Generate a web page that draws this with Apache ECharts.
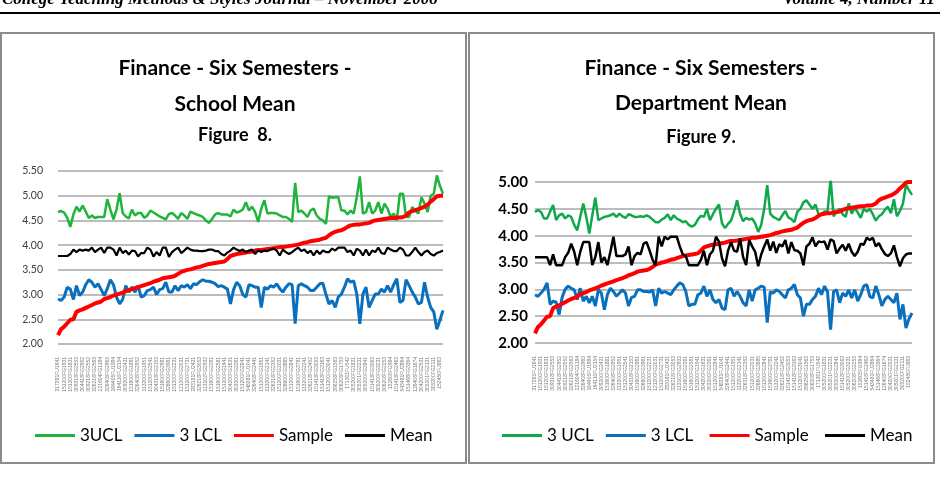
<!DOCTYPE html>
<html><head><meta charset="utf-8">
<script src="https://cdn.jsdelivr.net/npm/echarts@6/dist/echarts.min.js"></script>
<style>html,body{margin:0;padding:0;background:#fff}#c{width:940px;height:478px}</style>
</head><body><div id="c"></div>
<script>
const categories = ['317381FU1641','151200FG2041','151200FG1931','151200FG1731','151200FG1831','309318FG2453','309318FG2553','304418FG2852','304418FG2952','309218FG2452','309218FG2552','326218FG2463','326218FG2563','121604FG1084','121604FG1184','326408FG2863','326408FG2963','164405FU1884','164405FU1984','164110FU2054','164110FU2154','309200FG2331','309200FG2431','151600FG1781','151600FG1881','326408FG2852','326408FG2952','113200FG1851','113200FG1951','151200FG2441','151200FG2541','304318FG2053','304318FG2153','151600FG2881','151600FG2981','326600FG3881','326600FG3981','151200FG2131','151200FG2231','121200FG1931','121200FG2031','151200FG2731','151200FG2731','283181FU2331','283181FU2431','326218FG2953','326218FG3053','113102FG2832','113102FG2932','151600FG2181','151600FG2281','151600FG2481','151600FG2581','151200FG1841','151200FG1941','304200FG1531','304200FG1631','303200FG2161','303200FG2261','151200FG2741','151200FG2841','548381FU0941','548381FU1041','326408FG2341','326408FG2441','151200FG1851','151200FG1951','113200FG2041','113200FG2141','326318FG2252','326318FG2352','151200FG1931','151200FG2031','326600FG3785','326600FG3885','151200FG2741','151200FG2841','151600FG3681','151600FG3781','113200FG2141','113200FG2241','326218FG2352','326218FG2452','151418FG2953','151418FG3053','151418FG3063','151418FG3163','151200FG2941','151200FG3041','398258FG1463','398258FG1563','306208FG1653','306208FG1753','171301FU442','171301FU542','305200FG1731','305200FG1831','305201FG2131','305201FG2231','305200FG2741','305200FG2841','151418FG2963','151418FG3063','305200FG3131','305200FG3231','306208FG2153','306208FG2253','152605FG884','152605FG984','151418FG2363','151418FG2463','543481FU2764','543481FU2864','151468FG3264','151468FG3364','126408FG1574','126408FG1674','304200FG2431','304200FG2531','305201FG2031','305201FG2131','305200FG2011','305200FG2111','152450FU763','152450FU863','152450FU963'];

const sample = [2.18,2.30,2.35,2.42,2.49,2.50,2.65,2.68,2.70,2.73,
 2.76,2.79,2.82,2.84,2.86,2.91,2.93,2.95,2.98,3.00,
 3.02,3.04,3.07,3.09,3.11,3.13,3.15,3.17,3.19,3.21,
 3.23,3.26,3.28,3.30,3.33,3.34,3.35,3.36,3.38,3.42,
 3.46,3.48,3.50,3.51,3.53,3.55,3.56,3.58,3.60,3.62,
 3.63,3.64,3.65,3.66,3.67,3.72,3.78,3.80,3.82,3.83,
 3.84,3.85,3.86,3.87,3.89,3.90,3.90,3.91,3.92,3.93,
 3.94,3.95,3.96,3.96,3.97,3.98,3.99,4.00,4.01,4.03,
 4.05,4.06,4.08,4.09,4.10,4.11,4.13,4.15,4.20,4.24,
 4.27,4.29,4.30,4.33,4.37,4.40,4.41,4.42,4.42,4.43,
 4.44,4.45,4.48,4.50,4.51,4.52,4.53,4.54,4.55,4.55,
 4.56,4.56,4.57,4.60,4.66,4.69,4.71,4.73,4.75,4.78,
 4.82,4.88,4.93,4.99,5.00,5.00];

const schoolUCL = [4.67,4.69,4.66,4.55,4.37,4.62,4.78,4.68,4.80,4.68,
 4.55,4.60,4.55,4.57,4.57,4.57,4.93,4.72,4.52,4.72,
 5.05,4.65,4.58,4.54,4.72,4.60,4.65,4.65,4.55,4.60,
 4.70,4.66,4.62,4.58,4.55,4.52,4.63,4.65,4.60,4.53,
 4.65,4.60,4.53,4.68,4.65,4.62,4.60,4.57,4.50,4.45,
 4.53,4.62,4.65,4.62,4.62,4.62,4.58,4.72,4.66,4.68,
 4.72,4.87,4.70,4.78,4.67,4.47,4.74,4.91,4.64,4.65,
 4.65,4.64,4.60,4.57,4.57,4.53,4.47,5.26,4.67,4.70,
 4.64,4.57,4.70,4.74,4.60,4.53,4.50,4.43,4.99,4.96,
 4.97,4.97,4.70,4.70,4.62,4.70,4.64,4.97,5.39,4.64,
 4.67,4.87,4.64,4.70,4.87,4.64,4.84,4.74,4.57,4.64,
 4.50,5.04,5.04,4.57,4.57,4.77,4.70,4.64,4.97,4.84,
 4.67,5.00,5.04,5.41,5.20,5.04];

const schoolLCL = [2.91,2.88,2.95,3.15,3.11,2.90,3.18,2.98,3.05,3.20,
 3.30,3.25,3.15,3.22,3.10,2.98,3.12,3.30,3.20,2.95,
 2.81,2.90,3.18,3.05,3.15,3.05,3.18,2.95,2.98,3.08,
 3.10,3.15,3.00,3.10,3.12,3.25,3.05,3.05,3.18,3.08,
 3.18,3.15,3.20,3.12,3.22,3.20,3.26,3.30,3.27,3.27,
 3.25,3.22,3.16,3.18,3.15,3.11,2.81,3.10,3.25,3.18,
 3.00,2.95,3.20,3.18,3.15,3.15,2.74,3.15,3.11,3.18,
 3.15,3.22,3.12,3.05,3.15,3.22,3.20,2.41,3.18,3.22,
 3.18,3.15,3.08,3.08,3.15,3.22,3.23,3.00,2.81,2.88,
 2.74,2.95,3.01,3.15,3.32,3.25,3.28,3.01,2.41,3.01,
 3.15,2.74,2.88,3.01,3.01,3.11,3.05,3.18,3.05,3.20,
 3.32,2.84,2.88,3.30,3.18,3.05,2.95,2.81,2.84,3.25,
 2.95,2.74,2.65,2.30,2.48,2.68];

const schoolMean = [3.78,3.78,3.78,3.78,3.82,3.91,3.86,3.91,3.89,3.91,
 3.89,3.95,3.86,3.91,3.95,3.84,3.95,3.95,3.91,3.79,
 3.95,3.84,3.89,3.81,3.89,3.88,3.77,3.84,3.84,3.95,
 3.91,3.77,3.86,3.79,3.95,3.95,3.76,3.86,3.91,3.95,
 3.84,3.89,3.95,3.91,3.89,3.89,3.88,3.88,3.89,3.91,
 3.91,3.88,3.88,3.82,3.79,3.85,3.89,3.95,3.91,3.88,
 3.91,3.86,3.89,3.91,3.82,3.89,3.86,3.89,3.88,3.91,
 3.93,3.89,3.79,3.91,3.86,3.82,3.86,3.91,3.95,3.88,
 3.91,3.84,3.89,3.79,3.89,3.82,3.89,3.86,3.86,3.93,
 3.89,3.95,3.95,3.95,3.86,3.89,3.79,3.93,3.89,3.79,
 3.91,3.79,3.89,3.86,3.95,3.84,3.82,3.95,3.91,3.88,
 3.88,3.95,3.91,3.79,3.79,3.86,3.95,3.86,3.79,3.86,
 3.89,3.82,3.79,3.84,3.86,3.89];

const deptUCL = [4.44,4.48,4.44,4.32,4.32,4.45,4.57,4.29,4.38,4.41,
 4.32,4.38,4.35,4.20,4.10,4.35,4.60,4.35,4.04,4.38,
 4.71,4.29,4.32,4.35,4.36,4.38,4.41,4.35,4.41,4.36,
 4.33,4.40,4.38,4.35,4.35,4.36,4.35,4.38,4.35,4.30,
 4.25,4.25,4.30,4.33,4.40,4.29,4.38,4.32,4.29,4.25,
 4.27,4.20,4.17,4.20,4.30,4.37,4.35,4.50,4.29,4.40,
 4.50,4.58,4.23,4.14,4.22,4.28,4.45,4.66,4.41,4.27,
 4.33,4.30,4.32,4.23,4.07,4.20,4.50,4.94,4.41,4.35,
 4.32,4.29,4.38,4.46,4.34,4.31,4.25,4.45,4.50,4.62,
 4.66,4.58,4.50,4.58,4.40,4.40,4.45,4.45,5.07,4.36,
 4.45,4.50,4.40,4.35,4.60,4.41,4.52,4.43,4.33,4.50,
 4.45,4.50,4.40,4.28,4.36,4.40,4.48,4.54,4.42,4.68,
 4.36,4.46,4.60,4.95,4.85,4.76];

const deptLCL = [2.90,2.87,2.93,3.00,3.12,2.72,2.78,2.76,2.53,2.85,
 3.00,3.06,3.02,2.99,2.81,3.02,2.78,2.87,2.75,2.87,
 2.69,2.99,2.93,2.62,2.90,3.02,2.96,2.87,2.93,2.99,
 2.93,2.69,2.85,2.87,2.99,2.99,2.96,2.96,2.95,2.99,
 2.69,3.02,2.93,2.96,2.93,2.90,2.99,3.06,3.12,3.09,
 2.96,2.69,2.72,2.72,2.90,2.93,3.06,2.87,2.99,2.81,
 2.75,2.81,2.65,2.62,2.99,3.02,2.87,2.96,2.87,2.75,
 2.69,2.99,2.78,2.99,3.02,3.06,3.04,2.38,2.95,2.93,
 2.99,2.96,2.90,2.84,2.99,3.02,3.09,2.90,2.84,2.50,
 2.72,2.72,2.81,2.87,3.02,2.90,3.06,2.95,2.25,2.96,
 2.99,2.75,2.93,2.87,2.99,2.84,2.99,2.78,2.90,3.06,
 3.09,2.87,2.84,3.06,2.90,2.69,2.81,2.87,2.81,2.75,
 2.93,2.44,2.72,2.28,2.45,2.56];

const deptMean = [3.60,3.60,3.60,3.60,3.60,3.45,3.65,3.45,3.45,3.45,
 3.60,3.68,3.85,3.70,3.45,3.70,3.88,3.88,3.88,3.45,
 3.60,3.88,3.50,3.60,3.45,3.70,3.98,3.62,3.62,3.62,
 3.65,3.80,3.45,3.62,3.68,3.65,3.85,3.88,3.72,3.55,
 3.45,3.98,3.80,3.98,3.93,3.98,3.98,3.98,3.80,3.65,
 3.62,3.45,3.45,3.45,3.45,3.55,3.72,3.45,3.65,3.72,
 3.98,3.89,3.58,3.43,3.72,3.88,3.72,3.70,3.95,3.60,
 3.45,3.92,3.80,3.70,3.43,3.65,3.80,3.93,3.72,3.89,
 3.68,3.84,3.80,3.92,3.67,3.88,3.73,3.72,3.67,3.45,
 3.80,3.85,3.97,3.80,3.89,3.88,3.89,3.74,3.93,3.90,
 3.67,3.76,3.83,3.72,3.85,3.70,3.62,3.70,3.85,3.83,
 3.96,3.92,3.96,3.80,3.86,3.75,3.66,3.62,3.67,3.82,
 3.60,3.43,3.58,3.65,3.67,3.67];

const yTicksLeft = {min: 2, max: 5.5, step: 0.5};
const yTicksRight = {min: 2, max: 5, step: 0.5};

const cats = categories.slice(0, sample.length);
const FONT = 'Lato, "Open Sans", sans-serif';
const chart = echarts.init(document.getElementById('c'), null, {renderer: 'canvas'});

function xAxis(gi) {
  return {type: 'category', gridIndex: gi, data: cats, boundaryGap: false,
    axisLine: {show: false}, axisTick: {show: false},
    axisLabel: {rotate: 90, interval: 1, fontSize: 5, color: '#7a7a7a', margin: 13, fontFamily: 'Liberation Sans'}};
}
const gridLine = {show: true, lineStyle: {color: '#a6a6a6', width: 1.5}};
function line(name, data, color, width, gi, z) {
  return {name, type: 'line', data, xAxisIndex: gi, yAxisIndex: gi, symbol: 'none',
    lineStyle: {color, width}, itemStyle: {color}, z, animation: false};
}
const GREEN_L = '#1fb53c', GREEN_R = '#0fa84a', BLUE = '#0a70be', RED = '#ff0000', BLACK = '#000000';

const legendCommon = {orient: 'horizontal', icon: 'rect', itemWidth: 40, itemHeight: 3, itemGap: 12,
  selectedMode: false, textStyle: {fontSize: 17, color: '#000', fontFamily: FONT}, top: 427, padding: 0};

chart.setOption({
  animation: false,
  grid: [
    {left: 58, top: 171, width: 385, height: 173},
    {left: 535, top: 182, width: 377, height: 161}
  ],
  xAxis: [xAxis(0), xAxis(1)],
  yAxis: [
    {type: 'value', gridIndex: 0, min: yTicksLeft.min, max: yTicksLeft.max, interval: yTicksLeft.step,
      axisLine: {show: false}, axisTick: {show: false}, splitLine: gridLine,
      axisLabel: {formatter: v => v.toFixed(2), fontSize: 10.5, color: '#404040', margin: 15, fontFamily: FONT}},
    {type: 'value', gridIndex: 1, min: yTicksRight.min, max: yTicksRight.max, interval: yTicksRight.step,
      axisLine: {show: false}, axisTick: {show: false}, splitLine: gridLine,
      axisLabel: {formatter: v => v.toFixed(2), fontSize: 15, fontWeight: 'bold', color: '#000', margin: 7, fontFamily: FONT}}
  ],
  legend: [
    Object.assign({}, legendCommon, {left: 35, data: ['3UCL', '3 LCL', 'Sample', 'Mean']}),
    Object.assign({}, legendCommon, {left: 502, data: ['3 UCL', '3 LCL ', 'Sample ', 'Mean ']})
  ],
  series: [
    line('3UCL', schoolUCL, GREEN_L, 2.5, 0, 2),
    line('3 LCL', schoolLCL, BLUE, 3, 0, 3),
    line('Sample', sample, RED, 4, 0, 4),
    line('Mean', schoolMean, BLACK, 2.2, 0, 5),
    line('3 UCL', deptUCL, GREEN_R, 2.5, 1, 2),
    line('3 LCL ', deptLCL, BLUE, 3, 1, 3),
    line('Sample ', sample, RED, 4, 1, 4),
    line('Mean ', deptMean, BLACK, 2.5, 1, 5)
  ],
  graphic: [
    {type: 'text', left: 2, top: -9, style: {text: 'College Teaching Methods & Styles Journal \u2013 November 2008', font: 'italic bold 17px "Liberation Serif"', fill: '#000'}},
    {type: 'text', right: 5, top: -9, style: {text: 'Volume 4, Number 11', font: 'italic bold 17px "Liberation Serif"', fill: '#000'}},
    {type: 'rect', shape: {x: 0, y: 12, width: 940, height: 2}, style: {fill: '#000'}},
    {type: 'rect', shape: {x: 1, y: 33, width: 465, height: 430}, style: {fill: 'none', stroke: '#8c8c8c', lineWidth: 2}},
    {type: 'rect', shape: {x: 469, y: 33, width: 465, height: 430}, style: {fill: 'none', stroke: '#8c8c8c', lineWidth: 2}},
    {type: 'text', x: 235, y: 68, style: {text: 'Finance - Six Semesters -', font: 'bold 21px Lato', fill: '#000', textAlign: 'center', textVerticalAlign: 'middle'}},
    {type: 'text', x: 235, y: 104, style: {text: 'School Mean', font: 'bold 21px Lato', fill: '#000', textAlign: 'center', textVerticalAlign: 'middle'}},
    {type: 'text', x: 235, y: 135, style: {text: 'Figure  8.', font: 'bold 18px Lato', fill: '#000', textAlign: 'center', textVerticalAlign: 'middle'}},
    {type: 'text', x: 701, y: 68, style: {text: 'Finance - Six Semesters -', font: 'bold 21px Lato', fill: '#000', textAlign: 'center', textVerticalAlign: 'middle'}},
    {type: 'text', x: 701, y: 103, style: {text: 'Department Mean', font: 'bold 21px Lato', fill: '#000', textAlign: 'center', textVerticalAlign: 'middle'}},
    {type: 'text', x: 701, y: 137, style: {text: 'Figure 9.', font: 'bold 18px Lato', fill: '#000', textAlign: 'center', textVerticalAlign: 'middle'}}
  ]
});
</script></body></html>
